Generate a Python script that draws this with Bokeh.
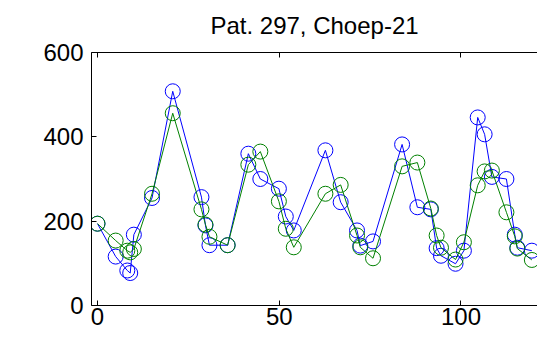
from bokeh.plotting import figure
from bokeh.models import Range1d, LinearAxis, FixedTicker, CustomJSTickFormatter
from bokeh.embed import file_html
from bokeh.resources import INLINE

title_text = "Pat. 297, Choep-21"
x_vals = [0, 5, 8.2, 9, 10, 15, 20.7, 28.6, 29.7, 30.8, 35.8, 41.5, 44.8, 49.9, 51.8, 54,
          62.7, 66.9, 71.4, 72.3, 75.8, 83.8, 88, 91.7, 93.3, 94.5, 98.5, 100.8, 104.6,
          106.5, 108.5, 112.5, 114.8, 115.5, 119.5]
blue_vals = [194, 116, 83, 77, 168, 255, 508, 257, 190, 143, 143, 360, 300, 277, 211, 178,
             368, 245, 178, 142, 152, 382, 233, 228, 136, 118, 99, 130, 446,
             406, 305, 300, 168, 137, 130]
green_vals = [194, 154, 130, 126, 134, 265, 456, 228, 192, 163, 143, 334, 365, 247, 182, 138,
              265, 286, 166, 138, 112, 330, 339, 230, 166, 137, 109, 150, 285,
              318, 320, 221, 164, 135, 108]
x_ticks = [0, 50, 100]
y_ticks = [0, 200, 400, 600]

FONT = "Liberation Sans"

p = figure(width=537, height=343, x_range=Range1d(-1.65, 121.05), y_range=Range1d(0, 600),
           output_backend="svg", toolbar_location=None,
           x_axis_location=None, y_axis_location=None,
           min_border_left=91, min_border_right=0, min_border_top=52, min_border_bottom=38,
           title=title_text)
p.grid.visible = False
p.outline_line_color = None
p.background_fill_color = "white"
p.border_fill_color = "white"

p.title.align = "center"
p.title.vertical_align = "top"
p.title.text_font = FONT
p.title.text_font_size = "24px"
p.title.text_font_style = "normal"
p.title.text_color = "black"
p.title.standoff = 23

def make_axis(ticks, labels=True):
    ax = LinearAxis(ticker=FixedTicker(ticks=ticks))
    ax.major_tick_in = 5
    ax.major_tick_out = 0
    ax.minor_tick_in = 0
    ax.minor_tick_out = 0
    ax.axis_line_color = "black"
    ax.axis_line_width = 1
    ax.major_tick_line_color = "black"
    ax.major_label_text_font = FONT
    ax.major_label_text_font_size = "24px"
    ax.major_label_text_color = "black"
    if not labels:
        ax.formatter = CustomJSTickFormatter(code="return ''")
        ax.major_label_text_font_size = "0px"
        ax.major_label_standoff = 0
    return ax

left = make_axis(y_ticks)
left.major_label_standoff = 8
p.add_layout(left, "left")
bottom = make_axis(x_ticks)
bottom.major_label_standoff = 2
p.add_layout(bottom, "below")
top = make_axis(x_ticks, labels=False)
p.add_layout(top, "above")

p.line(x_vals, blue_vals, line_color="#0000ff", line_width=1)
p.scatter(x_vals, blue_vals, marker="circle", size=15, fill_color=None,
          line_color="#0000ff", line_width=1)
p.line(x_vals, green_vals, line_color="#008000", line_width=1)
p.scatter(x_vals, green_vals, marker="circle", size=15, fill_color=None,
          line_color="#008000", line_width=1)

open("out.html", "w").write(file_html(p, INLINE))
